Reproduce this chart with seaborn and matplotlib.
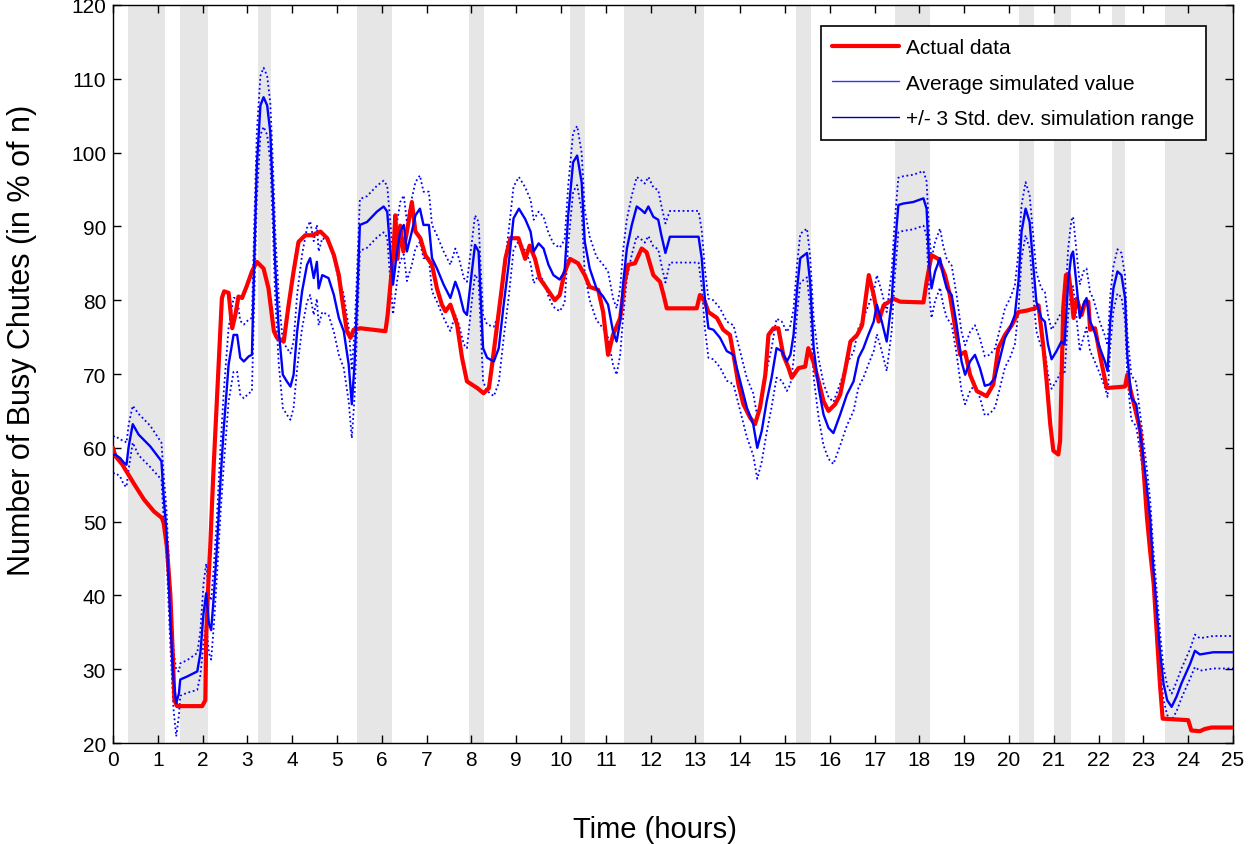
import matplotlib
matplotlib.use("Agg")
import matplotlib.pyplot as plt
from matplotlib.lines import Line2D
import seaborn as sns
import numpy as np
import pandas as pd

# shaded periods (start, end) in hours
band_start = [0.33, 1.50, 3.24, 5.45, 7.95, 10.20, 11.40, 15.25, 17.45, 20.22, 21.00, 22.30, 23.48]
band_end = [1.16, 2.12, 3.53, 6.23, 8.28, 10.54, 13.20, 15.58, 18.24, 20.56, 21.38, 22.60, 25.00]

# ACTUAL DATA (red)
act_t = [0, 0.05, 0.2, 0.46, 0.69, 0.91, 1.09, 1.13, 1.2, 1.28, 1.34, 1.37, 1.43, 1.99, 2.06, 2.08,
         2.13, 2.17, 2.21, 2.25, 2.34, 2.43, 2.48, 2.58, 2.66, 2.73, 2.8, 2.88, 2.99, 3.1, 3.21, 3.36,
         3.47, 3.59, 3.66, 3.81, 3.92, 4.03, 4.14, 4.29, 4.45, 4.63, 4.78, 4.93, 5.04, 5.11, 5.22, 5.3,
         5.37, 5.52, 6.08, 6.13, 6.19, 6.26, 6.3, 6.35, 6.41, 6.48, 6.56, 6.67, 6.75, 6.86, 6.97, 7.12,
         7.23, 7.34, 7.42, 7.53, 7.68, 7.79, 7.9, 8.13, 8.27, 8.39, 8.46, 8.65, 8.76, 8.87, 9.05, 9.2,
         9.3, 9.42, 9.53, 9.68, 9.86, 9.97, 10.08, 10.2, 10.38, 10.53, 10.64, 10.83, 10.94, 11.05, 11.16,
         11.32, 11.42, 11.5, 11.65, 11.8, 11.91, 12.06, 12.21, 12.29, 12.36, 13.03, 13.1, 13.21, 13.29,
         13.48, 13.62, 13.77, 13.85, 13.96, 14.07, 14.22, 14.33, 14.44, 14.56, 14.63, 14.74, 14.85,
         14.96, 15.08, 15.15, 15.3, 15.45, 15.52, 15.63, 15.75, 15.86, 15.97, 16.12, 16.23, 16.35,
         16.46, 16.61, 16.72, 16.79, 16.87, 16.98, 17.09, 17.2, 17.42, 17.57, 18.09, 18.16, 18.27,
         18.42, 18.57, 18.68, 18.79, 18.91, 19.02, 19.13, 19.28, 19.5, 19.65, 19.76, 19.91, 20.06,
         20.21, 20.4, 20.58, 20.66, 20.7, 20.77, 20.84, 20.92, 20.99, 21.1, 21.14, 21.18, 21.21, 21.27,
         21.33, 21.4, 21.44, 21.51, 21.62, 21.7, 21.77, 21.81, 21.92, 22.03, 22.18, 22.59, 22.64, 22.7,
         22.81, 22.93, 23.0, 23.08, 23.15, 23.23, 23.3, 23.37, 23.43, 24.0, 24.07, 24.26, 24.37, 24.52, 25.0]
act_val = [60, 58.9, 57.8, 55.2, 53, 51.4, 50.5, 49.8, 46.7, 40, 31, 25.8, 25, 25, 25.8, 34.4,
           42, 46.6, 52.5, 58, 69, 80.3, 81.2, 81, 76.2, 78, 80.5, 80.3, 82, 83.9, 85.2, 84.3,
           81.6, 75.8, 74.9, 74.4, 79.4, 83.9, 87.9, 88.8, 88.8, 89.3, 88.4, 86.1, 83.4, 80.3, 75.8, 74.9,
           76, 76.2, 75.8, 78, 82, 86.5, 91.5, 85.6, 90.1, 86.6, 89.3, 93.3, 89.3, 88.4, 86.1, 84.8,
           81.6, 79.4, 78.5, 79.4, 76.7, 72.2, 69, 68.1, 67.4, 68.1, 71.2, 80.3, 85.7, 88.4, 88.4, 85.6,
           87.4, 85.6, 82.9, 81.6, 80, 80.7, 83.8, 85.6, 85, 83.4, 81.8, 81.4, 78.4, 72.6, 75.3,
           77.6, 82.5, 84.8, 85, 87, 86.5, 83.4, 82.5, 80.7, 78.9, 78.9, 80.7, 79.8, 78.4,
           77.6, 76, 75.3, 72.6, 68.6, 65.9, 64.1, 63.2, 65.4, 69.9, 75.3, 76.2, 76.2,
           72.6, 70.8, 69.5, 70.8, 71, 73.5, 71.7, 69, 66.3, 65, 65.9, 67.2, 70.8,
           74.4, 75.3, 76.6, 79.8, 83.4, 80.7, 77.1, 79.3, 80.2, 79.8, 79.7, 82.5, 86.1,
           85.6, 83.4, 80.7, 76.6, 72.6, 73, 69.9, 67.7, 67, 68.6, 73.5, 75.3, 76.6,
           78.4, 78.6, 78.9, 79.3, 77.1, 73.5, 69, 63.2, 59.6, 59.1, 60.9, 71.3, 78.9, 83.4,
           83.6, 80.2, 77.6, 80.2, 78, 79.8, 79.8, 76, 76.2, 72.6, 68.1, 68.3, 69.9, 68.1,
           65.4, 62.3, 57.3, 50.5, 46, 41.5, 34.7, 27.9, 23.3, 23.1, 21.7, 21.6, 21.9, 22.1, 22.1]

# SIMULATION: average and half width of the +/- 3 std. dev. range
sim_t = [0.0, 0.05, 0.16, 0.24, 0.3, 0.35, 0.44, 0.57, 0.83, 1.08, 1.13, 1.19, 1.24, 1.29, 1.35, 1.41,
         1.47, 1.5, 1.65, 1.88, 1.95, 2.02, 2.08, 2.14, 2.19, 2.25, 2.32, 2.4, 2.47, 2.58, 2.69, 2.77,
         2.84, 2.92, 3.03, 3.1, 3.15, 3.21, 3.29, 3.36, 3.44, 3.51, 3.57, 3.62, 3.7, 3.79, 3.88, 3.96,
         4.03, 4.11, 4.22, 4.33, 4.4, 4.48, 4.55, 4.59, 4.67, 4.81, 4.93, 5.04, 5.15, 5.26, 5.33, 5.39,
         5.45, 5.51, 5.67, 5.89, 6.04, 6.12, 6.19, 6.25, 6.34, 6.41, 6.49, 6.56, 6.67, 6.75, 6.85, 6.93,
         7.05, 7.12, 7.23, 7.38, 7.53, 7.64, 7.72, 7.83, 7.9, 8.01, 8.08, 8.16, 8.2, 8.26, 8.35, 8.5,
         8.61, 8.72, 8.83, 8.94, 9.06, 9.2, 9.32, 9.39, 9.5, 9.61, 9.72, 9.83, 9.97, 10.08, 10.16, 10.27,
         10.36, 10.46, 10.53, 10.64, 10.79, 10.94, 11.05, 11.16, 11.24, 11.32, 11.39, 11.47, 11.58,
         11.69, 11.8, 11.87, 11.95, 12.06, 12.17, 12.24, 12.33, 12.43, 13.07, 13.14, 13.21, 13.29, 13.4,
         13.55, 13.7, 13.85, 14.0, 14.15, 14.29, 14.38, 14.48, 14.59, 14.7, 14.81, 14.93, 15.04, 15.12,
         15.19, 15.27, 15.34, 15.49, 15.56, 15.64, 15.75, 15.86, 15.97, 16.08, 16.23, 16.38, 16.53,
         16.64, 16.75, 16.86, 16.98, 17.05, 17.16, 17.27, 17.38, 17.45, 17.53, 17.64, 17.86, 18.09,
         18.16, 18.22, 18.27, 18.35, 18.46, 18.53, 18.61, 18.72, 18.83, 18.94, 19.02, 19.13, 19.24,
         19.35, 19.46, 19.57, 19.69, 19.8, 19.91, 20.02, 20.13, 20.21, 20.28, 20.37, 20.46, 20.54,
         20.61, 20.72, 20.8, 20.87, 20.95, 21.06, 21.17, 21.24, 21.32, 21.39, 21.43, 21.5, 21.58,
         21.66, 21.73, 21.81, 21.88, 22.03, 22.14, 22.2, 22.26, 22.33, 22.42, 22.51, 22.59, 22.64,
         22.73, 22.84, 22.95, 23.07, 23.15, 23.22, 23.3, 23.37, 23.45, 23.53, 23.63, 23.74, 23.85,
         24.04, 24.15, 24.26, 24.56, 25.0]
sim_mean = [59.0, 59.1, 58.6, 58.0, 57.7, 60.2, 63.2, 61.8, 60.2, 58.2, 53.4, 48.9, 42.1, 35.3, 28.6, 25.4,
            26.7, 28.6, 29.0, 29.7, 32.2, 37.6, 40.3, 36.2, 35.3, 39.9, 46.7, 55.7, 62.5, 71.3, 75.3, 75.3,
            72.2, 71.7, 72.4, 72.6, 84.8, 98.3, 106.4, 107.5, 106.4, 102.8, 93.8, 84.8, 75.8, 69.9, 69.0, 68.3,
            69.9, 75.8, 81.2, 84.8, 85.7, 83.0, 85.2, 81.6, 83.4, 83.0, 80.7, 77.6, 75.8, 71.3, 65.9, 71.3,
            80.3, 90.2, 90.6, 92.0, 92.7, 92.0, 86.6, 82.1, 86.6, 89.3, 90.2, 86.6, 89.3, 91.5, 92.4, 90.2,
            90.2, 85.7, 84.3, 82.1, 80.3, 82.5, 81.2, 78.5, 78.0, 83.9, 87.5, 86.6, 81.2, 73.5, 72.2, 71.7,
            73.5, 79.4, 84.8, 91.1, 92.4, 91.0, 89.3, 86.6, 87.7, 87.0, 84.8, 83.4, 82.8, 83.9, 91.5, 98.7,
            99.6, 96.0, 87.9, 84.3, 81.6, 80.5, 79.4, 75.8, 74.4, 77.1, 82.5, 87.0, 90.2,
            92.7, 92.2, 91.8, 92.7, 91.3, 90.9, 88.8, 86.4, 88.6, 88.6, 85.7, 80.3, 76.2, 76.0,
            74.9, 73.1, 72.6, 69.0, 65.4, 63.2, 60.0, 62.3, 66.3, 69.5, 73.5, 73.1, 71.7, 72.6,
            75.3, 81.6, 85.7, 86.4, 82.5, 73.5, 68.1, 64.5, 62.7, 62.0, 64.5, 67.2, 69.0,
            72.2, 73.5, 75.3, 77.1, 79.4, 77.1, 74.4, 79.8, 87.0, 92.9, 93.1, 93.3, 93.8,
            92.4, 84.8, 81.6, 83.9, 85.7, 83.4, 81.6, 80.7, 76.7, 71.7, 69.9, 71.7, 72.6,
            70.8, 68.4, 68.6, 69.5, 72.2, 74.9, 76.2, 78.0, 82.5, 89.3, 92.4, 90.6, 84.8,
            79.8, 77.6, 77.1, 74.0, 72.0, 73.1, 74.4, 74.0, 82.5, 86.1, 86.6, 82.5, 77.6,
            79.4, 80.3, 77.1, 76.2, 73.5, 71.7, 70.4, 77.1, 81.6, 83.9, 83.4, 80.3, 72.6,
            66.8, 65.9, 61.0, 55.0, 50.5, 43.8, 37.9, 32.5, 28.0, 25.8, 24.9, 26.3, 28.1,
            30.7, 32.5, 32.0, 32.3, 32.3]
sim_spread = [2.5, 2.5, 2.5, 3, 3, 3, 2.5, 2.8, 2.8, 2.5, 3, 3, 3.5, 3.5, 4, 4.5,
              3, 2.2, 2.2, 2.5, 3, 4, 4, 4, 4, 4, 4, 4.5, 5, 5, 5, 5,
              5, 5, 5, 5, 5, 4.5, 4, 4, 4, 4, 4.5, 4.5, 4.5, 4.5, 4.5, 4.5,
              4.5, 5, 5, 5, 5, 5, 5, 5, 5, 5, 5, 5, 5, 5, 4.6, 4.5,
              4, 3.5, 3.5, 3.5, 3.5, 3.5, 4, 4, 4, 4, 4, 4, 4.5, 4.5, 4.5, 4.5,
              4.5, 4.5, 4.5, 4.5, 4.5, 4.5, 4.5, 4.5, 4.5, 4, 4, 4, 4, 4.5, 4.5, 4.7,
              4.7, 4.5, 4.5, 4.3, 4.3, 4.3, 4.3, 4.3, 4.3, 4.3, 4.3, 4.3, 4.3, 4.3, 4, 4,
              4, 4, 4.3, 4.3, 4.3, 4.3, 4.5, 4.5, 4.5, 4.5, 4.5, 4, 4,
              4, 4, 4, 4, 4, 4, 4, 4, 3.5, 3.5, 3.8, 4, 4, 4,
              4, 4, 4, 4, 4, 4.2, 4.2, 4.2, 4.2, 4, 4, 4, 4, 4,
              3.5, 3.3, 3.3, 3.3, 3.5, 4, 4, 4.2, 4.2, 4.2, 4.2, 4.2, 4,
              4, 4, 4, 4, 4, 4, 4, 4, 3.8, 3.7, 3.7, 3.7, 3.7,
              3.7, 4, 4, 4, 4, 4, 4, 4, 4, 4, 4, 4, 4,
              4, 4, 4, 4, 4, 4, 4, 4, 4, 3.6, 3.6, 3.6, 4,
              4, 4, 4, 4, 4, 4, 4, 4, 4.5, 4.7, 4.7, 4.5, 4.5,
              4.5, 4, 4, 4, 3.5, 3.5, 3.5, 3.5, 3, 3, 3, 3, 3,
              3, 3, 2.5, 2.5, 2.5, 2.5, 2.5, 2.5, 2.2, 2, 1.8, 2, 2,
              2, 2.2, 2.2, 2.2, 2.2]

act = pd.DataFrame({"t": act_t, "val": act_val})
sim = pd.DataFrame({"t": sim_t, "mean": sim_mean, "spread": sim_spread})
sim["upper"] = sim["mean"] + sim["spread"]
sim["lower"] = sim["mean"] - sim["spread"]

sns.set_style("ticks")
plt.rcParams["font.family"] = ["Liberation Sans", "DejaVu Sans"]
plt.rcParams["text.color"] = "black"
plt.rcParams["axes.labelcolor"] = "black"

fig = plt.figure(figsize=(12.56, 8.45), dpi=100)
ax = fig.add_axes([0.09, 0.1195, 0.8917, 0.8734])

for s, e in zip(band_start, band_end):
    ax.axvspan(s, e, color="#e6e6e6", lw=0, zorder=0)

dot = (0, (1, 1.5))
sns.lineplot(data=sim, x="t", y="upper", ax=ax, estimator=None, sort=False,
             color="#0000ff", linewidth=1.3, linestyle=dot, zorder=2)
sns.lineplot(data=sim, x="t", y="lower", ax=ax, estimator=None, sort=False,
             color="#0000ff", linewidth=1.3, linestyle=dot, zorder=2)
sns.lineplot(data=act, x="t", y="val", ax=ax, estimator=None, sort=False,
             color="#ff0000", linewidth=3.0, zorder=3)
sns.lineplot(data=sim, x="t", y="mean", ax=ax, estimator=None, sort=False,
             color="#0000ff", linewidth=1.7, zorder=4)

ax.set_xlim(0, 25)
ax.set_ylim(20, 120)
ax.set_xticks(range(0, 26))
ax.set_yticks(range(20, 121, 10))
ax.tick_params(direction="in", length=6, width=1, labelsize=15, colors="black",
               top=True, right=True, pad=5)
for sp in ax.spines.values():
    sp.set_visible(True)
    sp.set_color("black")
    sp.set_linewidth(1)

ax.set_xlabel("Time (hours)", fontsize=21)
ax.xaxis.set_label_coords(0.484, -0.098)
ax.set_ylabel("Number of Busy Chutes (in % of n)", fontsize=22)
ax.yaxis.set_label_coords(-0.068, 0.547)

handles = [
    Line2D([], [], color="#ff0000", lw=3.0),
    Line2D([], [], color="#3333ff", lw=1.0),
    Line2D([], [], color="#0000aa", lw=1.0),
]
labels = ["Actual data", "Average simulated value", "+/- 3 Std. dev. simulation range"]
leg = ax.legend(handles, labels, loc="upper right", bbox_to_anchor=(0.976, 0.971),
                fontsize=15, frameon=True, fancybox=False, framealpha=1,
                edgecolor="black", handlelength=3.2, handletextpad=0.35,
                labelspacing=0.8, borderpad=0.55, borderaxespad=0)
leg.get_frame().set_linewidth(1.2)

fig.savefig("out.png", dpi=100)
